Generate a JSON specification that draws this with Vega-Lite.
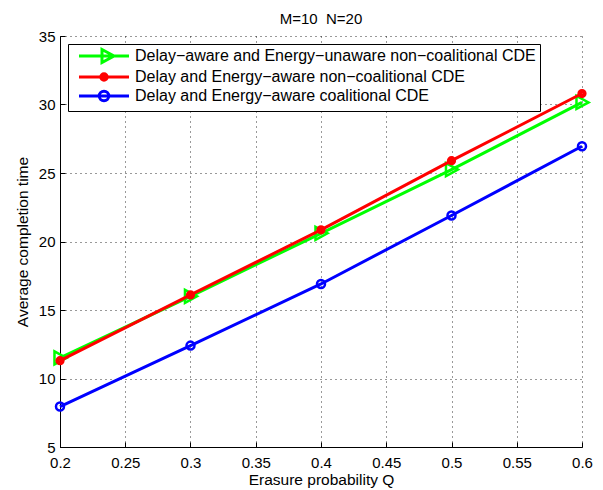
{
  "$schema": "https://vega.github.io/schema/vega-lite/v6.json",
  "width": 522,
  "height": 411,
  "autosize": {"type": "none"},
  "padding": {"left": 60, "top": 36, "right": 21, "bottom": 43},
  "background": "white",
  "title": {"text": "M=10\u00a0 N=20", "fontSize": 15, "font": "Liberation Sans", "fontWeight": "normal", "color": "black", "anchor": "middle", "baseline": "alphabetic", "offset": -10},
  "config": {
    "view": {"stroke": null},
    "axis": {
      "labelFont": "Liberation Sans", "labelFontSize": 15, "labelColor": "black", "labelFlush": false,
      "titleFont": "Liberation Sans", "titleFontSize": 15.5, "titleFontWeight": "normal", "titleColor": "black",
      "domainColor": "black", "domainWidth": 1, "tickColor": "black", "tickWidth": 1, "tickSize": -5,
      "gridColor": "black", "gridDash": [1, 4], "gridOpacity": 0.8, "gridWidth": 1
    }
  },
  "data": {"values": [
    {"q": 0.2, "t": 11.5, "series": "Delay−aware and Energy−unaware non−coalitional CDE"},
    {"q": 0.3, "t": 16.0, "series": "Delay−aware and Energy−unaware non−coalitional CDE"},
    {"q": 0.4, "t": 20.6, "series": "Delay−aware and Energy−unaware non−coalitional CDE"},
    {"q": 0.5, "t": 25.25, "series": "Delay−aware and Energy−unaware non−coalitional CDE"},
    {"q": 0.6, "t": 30.15, "series": "Delay−aware and Energy−unaware non−coalitional CDE"},
    {"q": 0.2, "t": 11.3, "series": "Delay and Energy−aware non−coalitional CDE"},
    {"q": 0.3, "t": 16.1, "series": "Delay and Energy−aware non−coalitional CDE"},
    {"q": 0.4, "t": 20.85, "series": "Delay and Energy−aware non−coalitional CDE"},
    {"q": 0.5, "t": 25.9, "series": "Delay and Energy−aware non−coalitional CDE"},
    {"q": 0.6, "t": 30.8, "series": "Delay and Energy−aware non−coalitional CDE"},
    {"q": 0.2, "t": 7.95, "series": "Delay and Energy−aware coalitional CDE"},
    {"q": 0.3, "t": 12.4, "series": "Delay and Energy−aware coalitional CDE"},
    {"q": 0.4, "t": 16.9, "series": "Delay and Energy−aware coalitional CDE"},
    {"q": 0.5, "t": 21.9, "series": "Delay and Energy−aware coalitional CDE"},
    {"q": 0.6, "t": 26.95, "series": "Delay and Energy−aware coalitional CDE"}
  ]},
  "encoding": {
    "x": {"field": "q", "type": "quantitative", "scale": {"domain": [0.2, 0.6], "nice": false, "zero": false},
      "axis": {"values": [0.2, 0.25, 0.3, 0.35, 0.4, 0.45, 0.5, 0.55, 0.6], "format": ".2~f", "title": "Erasure probability Q", "labelPadding": 13, "titlePadding": 2, "grid": true, "labelFlush": false}},
    "y": {"field": "t", "type": "quantitative", "scale": {"domain": [5, 35], "nice": false, "zero": false},
      "axis": {"values": [5, 10, 15, 20, 25, 30, 35], "title": "Average completion time", "labelPadding": 10, "titlePadding": 8, "grid": true, "labelFlush": false}}
  },
  "layer": [
    {
      "transform": [{"filter": "datum.series === 'Delay−aware and Energy−unaware non−coalitional CDE'"}],
      "mark": {"type": "line", "strokeWidth": 3},
      "encoding": {
        "color": {"field": "series", "type": "nominal",
          "scale": {"domain": ["Delay−aware and Energy−unaware non−coalitional CDE", "Delay and Energy−aware non−coalitional CDE", "Delay and Energy−aware coalitional CDE"], "range": ["#00ff00", "#ff0000", "#0000ff"]},
          "legend": {
            "title": null, "orient": "none", "legendX": 8, "legendY": 8, "direction": "vertical",
            "strokeColor": "black", "fillColor": "white", "padding": 4, "rowPadding": -2,
            "labelFont": "Liberation Sans", "labelFontSize": 16, "labelColor": "black", "labelLimit": 1000,
            "symbolSize": 100, "symbolStrokeWidth": 2.5, "symbolOffset": 24, "labelOffset": 23, "symbolType": "circle",
            "symbolFillColor": "transparent",
            "encode": {"symbols": {"update": {
              "shape": {"signal": "datum.index === 0 ? 'M-5,0H5M-0.4,-1.3L2,0L-0.4,1.3Z' : datum.index === 1 ? 'M-5,0H5M-0.65,0A0.65,0.65 0 1,0 0.65,0A0.65,0.65 0 1,0 -0.65,0ZM-0.3,0A0.3,0.3 0 1,0 0.3,0A0.3,0.3 0 1,0 -0.3,0Z' : 'M-5,0H5M-0.95,0A0.95,0.95 0 1,0 0.95,0A0.95,0.95 0 1,0 -0.95,0Z'"},
              "fill": {"value": "transparent"},
              "stroke": {"signal": "datum.index === 0 ? '#00ff00' : datum.index === 1 ? '#ff0000' : '#0000ff'"},
              "strokeWidth": {"value": 3},
              "opacity": {"value": 1}
            }}}
          }}
      }
    },
    {
      "transform": [{"filter": "datum.series === 'Delay−aware and Energy−unaware non−coalitional CDE'"}],
      "mark": {"type": "point", "shape": "M-0.85,-1L1,0L-0.85,1Z", "filled": false, "size": 169, "strokeWidth": 2.5, "opacity": 1},
      "encoding": {"color": {"field": "series", "type": "nominal"}}
    },
    {
      "transform": [{"filter": "datum.series === 'Delay and Energy−aware non−coalitional CDE'"}],
      "mark": {"type": "line", "strokeWidth": 3},
      "encoding": {"color": {"field": "series", "type": "nominal"}}
    },
    {
      "transform": [{"filter": "datum.series === 'Delay and Energy−aware non−coalitional CDE'"}],
      "mark": {"type": "point", "shape": "circle", "filled": false, "size": 18, "strokeWidth": 5, "opacity": 1},
      "encoding": {"color": {"field": "series", "type": "nominal"}}
    },
    {
      "transform": [{"filter": "datum.series === 'Delay and Energy−aware coalitional CDE'"}],
      "mark": {"type": "line", "strokeWidth": 3},
      "encoding": {"color": {"field": "series", "type": "nominal"}}
    },
    {
      "transform": [{"filter": "datum.series === 'Delay and Energy−aware coalitional CDE'"}],
      "mark": {"type": "point", "shape": "circle", "filled": false, "size": 64, "strokeWidth": 2.5, "opacity": 1},
      "encoding": {"color": {"field": "series", "type": "nominal"}}
    }
  ]
}
